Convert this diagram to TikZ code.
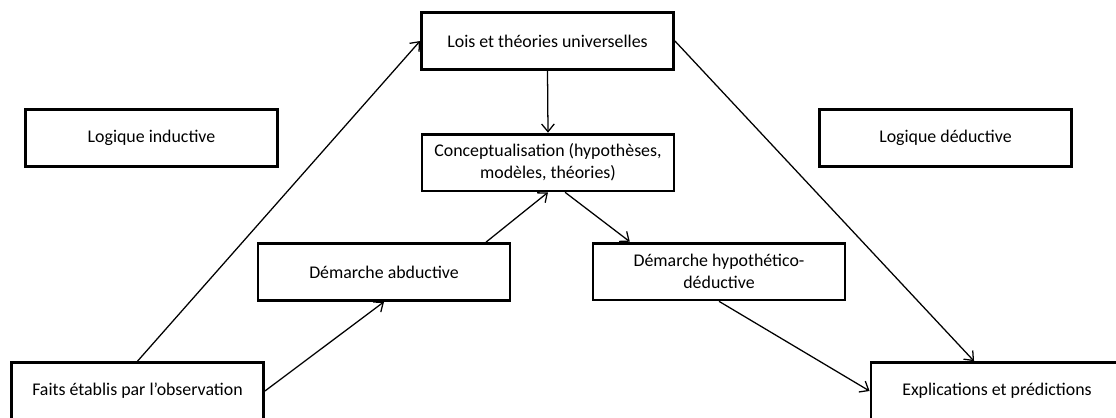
\documentclass[tikz,border=0pt]{standalone}
\usepackage{fontspec}
\setmainfont{Carlito}
\usetikzlibrary{arrows.meta,calc}
\begin{document}
\begin{tikzpicture}[x=0.025cm,y=-0.025cm,
  box/.style={draw,line width=2pt,rectangle,minimum width=6.3cm,minimum height=1.42cm,
    inner sep=0pt,align=center,font=\fontsize{12.7}{15.5}\selectfont},
  link/.style={line width=0.9pt,-{Straight Barb[length=5.5pt,width=9pt,line width=0.9pt]}}]
\useasboundingbox (0,0) rectangle (1116,417);
% boxes
\node[box] (lois) at (547.5,41) {Lois et théories universelles};
\node[box] (concept) at (548,162.5) {Conceptualisation (hypothèses,\\modèles, théories)};
\node[box] (ind) at (151.5,138) {Logique inductive};
\node[box] (ded) at (945.5,138) {Logique déductive};
\node[box] (abd) at (384,272) {Démarche abductive};
\node[box] (hyp) at (719,271.5) {Démarche hypothético-\\déductive};
\node[box] (faits) at (137.5,391) {Faits établis par l’observation};
\node[box] (expl) at (997,391) {Explications et prédictions};
% connectors
\draw[link] (faits.north) -- (lois.west);
\draw[link] (faits.east) -- (abd.south);
\draw[link] ($(abd.north west)!0.9!(abd.north east)$) -- (concept.south);
\draw[link] (lois.south) -- (concept.north);
\draw[link] ($(concept.south west)!0.567!(concept.south east)$) -- ($(hyp.north west)!0.15!(hyp.north east)$);
\draw[link] (lois.east) -- ($(expl.north west)!0.41!(expl.north east)$);
\draw[link] (hyp.south) -- (expl.west);
\end{tikzpicture}
\end{document}
